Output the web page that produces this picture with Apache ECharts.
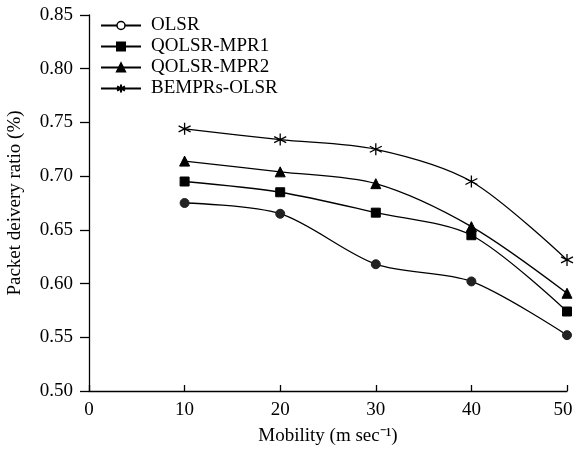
<!DOCTYPE html>
<html>
<head>
<meta charset="utf-8">
<script src="https://cdn.jsdelivr.net/npm/echarts@6/dist/echarts.min.js"></script>
<style>
html,body{margin:0;padding:0;background:#fff;}
#chart{width:574px;height:454px;}
</style>
</head>
<body>
<div id="chart"></div>
<script>
const mobility = [10, 20, 30, 40, 50]
const olsr = [0.675, 0.665, 0.618, 0.602, 0.552]
const qolsrMpr1 = [0.695, 0.685, 0.666, 0.645, 0.574]
const qolsrMpr2 = [0.714, 0.704, 0.693, 0.653, 0.591]
const bemprsOlsr = [0.744, 0.734, 0.725, 0.695, 0.622]

const font = 'Liberation Serif'

function pairs(vals){
    return mobility.map((m, i) => [m, vals[i]])
}

function makeSeries(name, vals, symbol, size, color){
    return {
        name: name,
        type: 'line',
        data: pairs(vals),
        smooth: 0.3,
        symbol: symbol,
        symbolSize: size,
        showAllSymbol: true,
        lineStyle: { color: '#000', width: 1.3 },
        itemStyle: { color: color, borderColor: color, borderWidth: 1 },
        emphasis: { disabled: true }
    }
}

// asterisk marker
const star = 'path://M0,-6L0,6M-5.2,-3L5.2,3M-5.2,3L5.2,-3'

const chart = echarts.init(document.getElementById('chart'))
const option = {
    animation: false,
    backgroundColor: '#fff',
    grid: { left: 89, right: 7, top: 15, bottom: 63, outerBoundsMode: 'none' },
    legend: {
        orient: 'vertical',
        left: 95,
        top: 11,
        itemWidth: 40,
        itemHeight: 10,
        itemGap: 2,
        textStyle: { fontFamily: font, fontSize: 19, color: '#000', padding: [0, 0, 0, 5] },
        data: [
            { name: 'OLSR', itemStyle: { color: '#fff', borderColor: '#000', borderWidth: 1.5 } },
            { name: 'QOLSR-MPR1' },
            { name: 'QOLSR-MPR2' },
            { name: 'BEMPRs-OLSR' }
        ]
    },
    xAxis: {
        type: 'value',
        min: 0, max: 50, interval: 10,
        name: 'Mobility (m sec\u207B\u00B9)',
        nameLocation: 'middle',
        nameGap: 36,
        nameTextStyle: { fontFamily: font, fontSize: 19, color: '#000' },
        axisLine: { lineStyle: { color: '#000', width: 1.3 } },
        axisTick: { inside: true, length: 6, lineStyle: { color: '#000', width: 1.3 } },
        axisLabel: {
            fontFamily: font, fontSize: 19, color: '#000', margin: 10,
            // last label sits a little left of its tick, as in the original
            formatter: v => v === 50 ? '{e|50}' : String(v),
            rich: { e: { fontFamily: font, fontSize: 19, color: '#000', padding: [0, 8, 0, 0] } }
        },
        splitLine: { show: false }
    },
    yAxis: {
        type: 'value',
        min: 0.5, max: 0.85, interval: 0.05,
        name: 'Packet deivery ratio (%)',
        nameLocation: 'middle',
        nameGap: 64,
        nameTextStyle: { fontFamily: font, fontSize: 19, color: '#000' },
        axisLine: { show: true, lineStyle: { color: '#000', width: 1.3 } },
        axisTick: { show: true, length: 9, lineStyle: { color: '#000', width: 1.3 } },
        axisLabel: { fontFamily: font, fontSize: 19, color: '#000', margin: 16,
            formatter: v => v.toFixed(2) },
        splitLine: { show: false }
    },
    series: [
        makeSeries('OLSR', olsr, 'circle', 9, '#222'),
        makeSeries('QOLSR-MPR1', qolsrMpr1, 'rect', 9, '#000'),
        makeSeries('QOLSR-MPR2', qolsrMpr2, 'triangle', 10, '#000'),
        Object.assign(makeSeries('BEMPRs-OLSR', bemprsOlsr, star, 12, '#000'),
            { itemStyle: { color: 'none', borderColor: '#000', borderWidth: 1.3 } })
    ]
}
chart.setOption(option)
</script>
</body>
</html>
